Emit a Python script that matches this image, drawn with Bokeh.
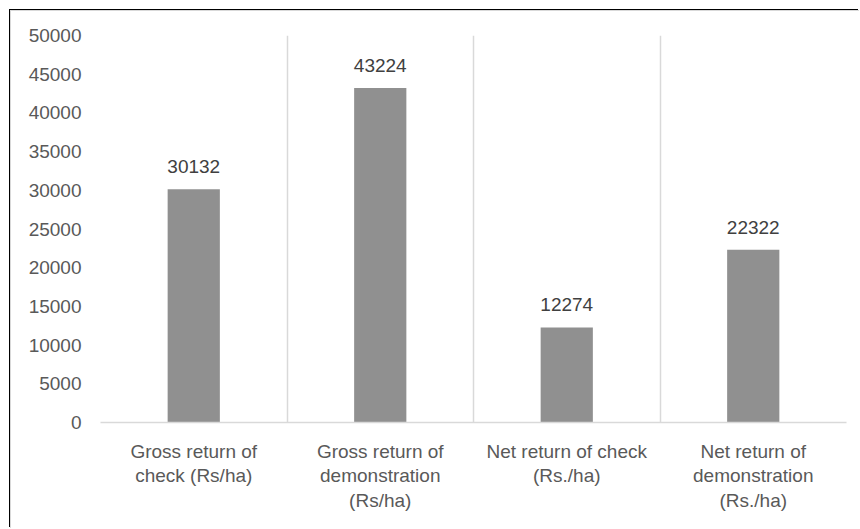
from bokeh.plotting import figure
from bokeh.models import (ColumnDataSource, Range1d, FixedTicker, LabelSet,
                          CanvasTexture)
from bokeh.core.properties import value
from bokeh.embed import file_html
from bokeh.resources import INLINE

categories = [
    "Gross return of\ncheck (Rs/ha)",
    "Gross return of\ndemonstration\n(Rs/ha)",
    "Net return of check\n(Rs./ha)",
    "Net return of\ndemonstration\n(Rs./ha)",
]
values = [30132, 43224, 12274, 22322]
y_ticks = [0, 5000, 10000, 15000, 20000, 25000, 30000, 35000, 40000, 45000, 50000]

xs = [i + 0.5 for i in range(len(categories))]
src = ColumnDataSource(dict(x=xs, top=values, label=[str(v) for v in values]))

p = figure(width=849, height=518, output_backend="svg", toolbar_location=None,
           x_range=Range1d(0, len(categories)), y_range=Range1d(0, 50000),
           min_border_left=89, min_border_right=14, min_border_top=24,
           min_border_bottom=107)
p.margin = (10, 0, 0, 10)
p.styles = {"border-left": "1px solid #d9d9d9", "border-top": "1px solid #d9d9d9",
            "box-shadow": "-1px -1px 0 0 #000000"}
p.stylesheets = ["image { image-rendering: pixelated; }"]
p.outline_line_color = None
p.background_fill_color = "white"
p.border_fill_color = "white"

checker_code = """
ctx.fillStyle = '#ffffff';
ctx.fillRect(0, 0, scale, scale);
ctx.fillStyle = '#000000';
const h = scale / 2;
ctx.fillRect(0, 0, h, h);
ctx.fillRect(h, h, h, h);
"""
tex = CanvasTexture(code=checker_code, repetition="repeat")
p.vbar(x="x", top="top", width=0.28, bottom=0, source=src,
       fill_color="white", line_color=None,
       hatch_pattern=value("chk"), hatch_extra={"chk": tex}, hatch_scale=6)

labels = LabelSet(x="x", y="top", text="label", source=src, y_offset=16,
                  text_align="center", text_baseline="alphabetic",
                  text_font=value("Liberation Sans"), text_font_size="19px",
                  text_color="#404040")
p.add_layout(labels)

# grid
p.ygrid.grid_line_color = None
p.xgrid.ticker = FixedTicker(ticks=list(range(len(categories) + 1)))
p.xgrid.grid_line_color = "#d9d9d9"
p.xgrid.grid_line_width = 1.5

# x axis
p.xaxis.ticker = FixedTicker(ticks=xs)
p.xaxis.major_label_overrides = {x: c for x, c in zip(xs, categories)}
p.xaxis.axis_line_color = "#d9d9d9"
p.xaxis.axis_line_width = 1.5
p.xaxis.major_tick_line_color = None
p.xaxis.minor_tick_line_color = None
p.xaxis.major_label_standoff = 12
p.xaxis.major_label_text_font = "Liberation Sans"
p.xaxis.major_label_text_font_size = "19px"
p.xaxis.major_label_text_color = "#595959"
p.xaxis.major_label_text_line_height = 1.17

# y axis
p.yaxis.ticker = FixedTicker(ticks=y_ticks)
p.yaxis.axis_line_color = None
p.yaxis.major_tick_line_color = None
p.yaxis.minor_tick_line_color = None
p.yaxis.major_label_standoff = 13
p.yaxis.major_label_text_font = "Liberation Sans"
p.yaxis.major_label_text_font_size = "19px"
p.yaxis.major_label_text_color = "#595959"

open("out.html", "w").write(file_html(p, INLINE))
